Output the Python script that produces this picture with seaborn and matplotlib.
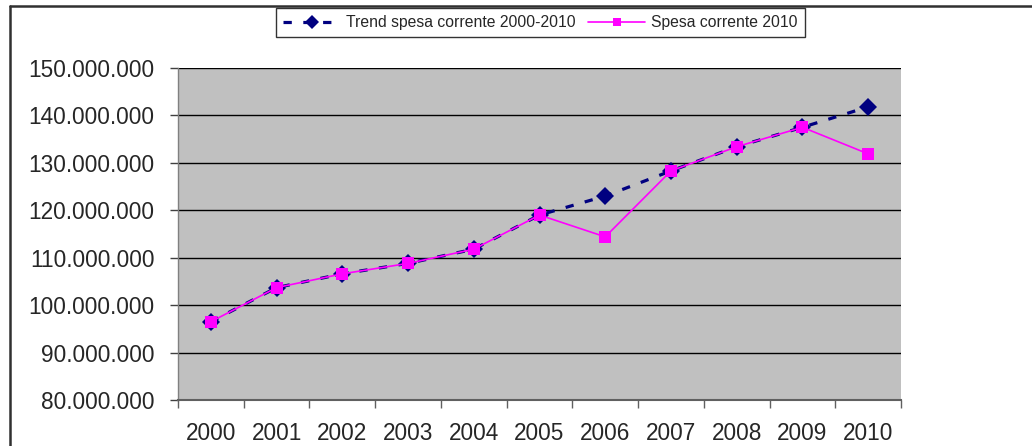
import numpy as np
import pandas as pd
import matplotlib
matplotlib.use("Agg")
import matplotlib.pyplot as plt
import seaborn as sns
from matplotlib.lines import Line2D
from matplotlib.ticker import FuncFormatter, FixedLocator

# dati
anni = [2000, 2001, 2002, 2003, 2004, 2005, 2006, 2007, 2008, 2009, 2010]
trend = [96500000, 103700000, 106600000, 108800000, 111800000, 119000000,
         123000000, 128300000, 133400000, 137500000, 141800000]
spesa = [96500000, 103700000, 106600000, 108800000, 111800000, 119000000,
         114400000, 128300000, 133400000, 137500000, 131900000]

df = pd.DataFrame({"anno": anni, "trend": trend, "spesa": spesa})

sns.set_style("white")
plt.rcParams["font.family"] = ["Liberation Sans", "DejaVu Sans"]

fig = plt.figure(figsize=(10.32, 4.46), dpi=100)
ax = fig.add_axes([178 / 1032, 46 / 446, 723 / 1032, 332 / 446])
ax.set_facecolor("#C0C0C0")

sns.lineplot(data=df, x="anno", y="trend", ax=ax, color="#000080", linewidth=2.3,
             marker="D", markersize=9, markeredgewidth=0,
             label="Trend spesa corrente 2000-2010", legend=False)
ax.lines[-1].set_dashes([2.6, 3.6])
sns.lineplot(data=df, x="anno", y="spesa", ax=ax, color="#FF00FF", linewidth=1.2,
             marker="s", markersize=8, markeredgewidth=0,
             label="Spesa corrente 2010", legend=False)

ax.set_xlim(1999.5, 2010.5)
ax.set_ylim(80000000, 150000000)
ax.set_yticks(np.arange(80000000, 150000001, 10000000))
ax.yaxis.set_major_formatter(FuncFormatter(lambda v, p: f"{int(v):,}".replace(",", ".")))
ax.grid(axis="y", color="black", linewidth=1)
ax.set_axisbelow(True)

ax.xaxis.set_major_locator(FixedLocator(np.arange(1999.5, 2011, 1)))
ax.xaxis.set_minor_locator(FixedLocator(anni))
ax.set_xticklabels([])
ax.set_xticklabels([str(a) for a in anni], minor=True)
ax.tick_params(axis="x", which="major", direction="out", length=6, width=1, color="#606060", bottom=True)
ax.tick_params(axis="x", which="minor", length=0, pad=16, labelsize=16.3)
ax.tick_params(axis="y", direction="out", length=6, width=1, color="#404040", left=True,
               labelsize=16.3, pad=11)
ax.set_xlabel("")
ax.set_ylabel("")

for s in ["top", "right"]:
    ax.spines[s].set_visible(False)
ax.spines["left"].set_color("#808080")
ax.spines["bottom"].set_color("#606060")
ax.spines["left"].set_linewidth(1)
ax.spines["bottom"].set_linewidth(1.5)

# bordo esterno del grafico
fig.add_artist(Line2D([10 / 1032, 10 / 1032], [0, 1 - 5.7 / 446], color="#303030", linewidth=1.8))
fig.add_artist(Line2D([10 / 1032, 1], [1 - 5.7 / 446, 1 - 5.7 / 446], color="#303030", linewidth=1.8))

handles, labels = ax.get_legend_handles_labels()
leg = fig.legend(handles, labels, loc="center", bbox_to_anchor=(540.5 / 1032, 1 - 22.5 / 446),
                 ncol=2, fontsize=11.3, frameon=True, fancybox=False, edgecolor="black",
                 borderpad=0.45, handlelength=3.6, columnspacing=0.8, handletextpad=0.4,
                 markerscale=0.75)
leg.get_frame().set_linewidth(1)

fig.savefig("out.png", dpi=100)
